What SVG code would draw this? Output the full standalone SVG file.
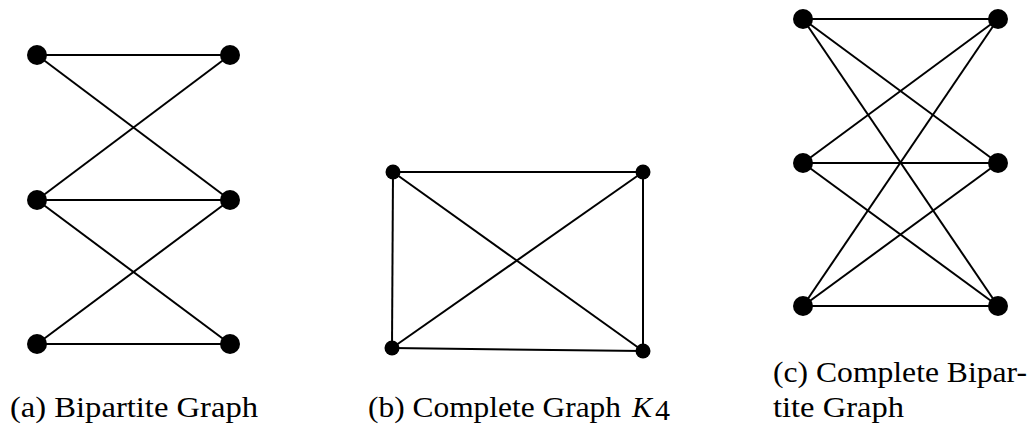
<svg xmlns="http://www.w3.org/2000/svg" width="1032" height="425" viewBox="0 0 1032 425">
<style>
.e{stroke:#000;stroke-width:2;fill:none}
.n{fill:#000}
.t{font-family:"Liberation Serif","DejaVu Serif",serif;font-size:30px;fill:#000}
</style>
<rect width="1032" height="425" fill="#fff"/>
<g id="connectors">
<g id="edges-a">
<line class="e" x1="37" y1="55" x2="230" y2="55"/>
<line class="e" x1="37" y1="55" x2="230" y2="200"/>
<line class="e" x1="230" y1="55" x2="37" y2="200"/>
<line class="e" x1="37" y1="200" x2="230" y2="200"/>
<line class="e" x1="37" y1="200" x2="230" y2="344"/>
<line class="e" x1="230" y1="200" x2="37" y2="344"/>
<line class="e" x1="37" y1="344" x2="230" y2="344"/>
</g>
<g id="edges-b">
<line class="e" x1="393" y1="172" x2="643" y2="172"/>
<line class="e" x1="393" y1="172" x2="392" y2="348"/>
<line class="e" x1="393" y1="172" x2="643" y2="351"/>
<line class="e" x1="643" y1="172" x2="392" y2="348"/>
<line class="e" x1="643" y1="172" x2="643" y2="351"/>
<line class="e" x1="392" y1="348" x2="643" y2="351"/>
</g>
<g id="edges-c">
<line class="e" x1="803" y1="19" x2="998" y2="19"/>
<line class="e" x1="803" y1="19" x2="998" y2="163"/>
<line class="e" x1="803" y1="19" x2="998" y2="306"/>
<line class="e" x1="803" y1="163" x2="998" y2="19"/>
<line class="e" x1="803" y1="163" x2="998" y2="163"/>
<line class="e" x1="803" y1="163" x2="998" y2="306"/>
<line class="e" x1="803" y1="306" x2="998" y2="19"/>
<line class="e" x1="803" y1="306" x2="998" y2="163"/>
<line class="e" x1="803" y1="306" x2="998" y2="306"/>
</g>
</g>
<g id="a1"><circle class="n" cx="37" cy="55" r="10"/></g>
<g id="a2"><circle class="n" cx="230" cy="55" r="10"/></g>
<g id="a3"><circle class="n" cx="37" cy="200" r="10"/></g>
<g id="a4"><circle class="n" cx="230" cy="200" r="10"/></g>
<g id="a5"><circle class="n" cx="37" cy="344" r="10"/></g>
<g id="a6"><circle class="n" cx="230" cy="344" r="10"/></g>
<g id="b1"><circle class="n" cx="393" cy="172" r="7.5"/></g>
<g id="b2"><circle class="n" cx="643" cy="172" r="7.5"/></g>
<g id="b3"><circle class="n" cx="392" cy="348" r="7.5"/></g>
<g id="b4"><circle class="n" cx="643" cy="351" r="7.5"/></g>
<g id="c1"><circle class="n" cx="803" cy="19" r="10"/></g>
<g id="c2"><circle class="n" cx="998" cy="19" r="10"/></g>
<g id="c3"><circle class="n" cx="803" cy="163" r="10"/></g>
<g id="c4"><circle class="n" cx="998" cy="163" r="10"/></g>
<g id="c5"><circle class="n" cx="803" cy="306" r="10"/></g>
<g id="c6"><circle class="n" cx="998" cy="306" r="10"/></g>
<g id="captions">
<text class="t" x="10" y="417" textLength="248" lengthAdjust="spacingAndGlyphs">(a) Bipartite Graph</text>
<text class="t" x="368" y="417" textLength="253" lengthAdjust="spacingAndGlyphs">(b) Complete Graph</text>
<text class="t" x="632" y="417" font-style="italic">K</text>
<text class="t" x="655" y="420" font-size="19">4</text>
<text class="t" x="773" y="382" textLength="254" lengthAdjust="spacingAndGlyphs">(c) Complete Bipar-</text>
<text class="t" x="773" y="417" textLength="131" lengthAdjust="spacingAndGlyphs">tite Graph</text>
</g>
</svg>
